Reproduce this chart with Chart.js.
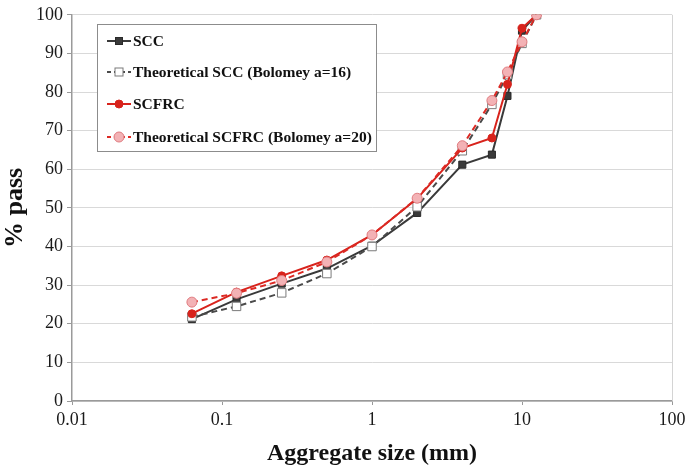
<!DOCTYPE html>
<html>
<head>
<meta charset="utf-8">
<script src="https://cdn.jsdelivr.net/npm/chart.js@4.4.1/dist/chart.umd.min.js"></script>
<style>
  html, body { margin: 0; padding: 0; background: #fff; }
  #wrap { width: 687px; height: 465px; position: relative; }
</style>
</head>
<body>
<div id="wrap"><canvas id="c" width="687" height="465"></canvas></div>
<script>
// Sieve sizes (mm) and cumulative % passing for each mix
const sizes = [0.063, 0.125, 0.25, 0.5, 1, 2, 4, 6.3, 8, 10, 12.5];
const scc = [21.2, 26.3, 30.4, 34.3, 40.2, 48.7, 61.2, 63.8, 79.0, 95.9, 100];
const theoSCC = [21.8, 24.5, 28.0, 33.0, 40.0, 50.3, 64.8, 76.8, 84.5, 92.6, 100];
const scfrc = [22.6, 28.2, 32.4, 36.5, 43.0, 52.4, 65.5, 68.1, 82.0, 96.5, 100];
const theoSCFRC = [25.6, 27.9, 31.2, 36.0, 43.0, 52.5, 66.1, 77.8, 85.2, 93.0, 100];

const xTicks = [0.01, 0.1, 1, 10, 100];
const seriesNames = ['SCC', 'Theoretical SCC (Bolomey a=16)', 'SCFRC', 'Theoretical SCFRC (Bolomey a=20)'];

const toPoints = vals => sizes.map((s, i) => ({ x: s, y: vals[i] }));
const SERIF = '"Liberation Serif", "Times New Roman", serif';

const datasets = [
  {
    label: seriesNames[0], data: toPoints(scc), order: 3,
    borderColor: '#3a3a3a', backgroundColor: '#3a3a3a', borderWidth: 2,
    pointStyle: 'rect', pointRadius: 5, pointBorderColor: '#2a2a2a', pointBackgroundColor: '#3a3a3a', pointBorderWidth: 1
  },
  {
    label: seriesNames[1], data: toPoints(theoSCC), order: 2,
    borderColor: '#4a4a4a', backgroundColor: '#ffffff', borderWidth: 2, borderDash: [6, 4],
    pointStyle: 'rect', pointRadius: 6, pointBorderColor: '#7a7a7a', pointBackgroundColor: '#ffffff', pointBorderWidth: 1
  },
  {
    label: seriesNames[2], data: toPoints(scfrc), order: 1,
    borderColor: '#d8231c', backgroundColor: '#d8231c', borderWidth: 2,
    pointStyle: 'circle', pointRadius: 4, pointBorderColor: '#d8231c', pointBackgroundColor: '#d8231c', pointBorderWidth: 1
  },
  {
    label: seriesNames[3], data: toPoints(theoSCFRC), order: 0,
    borderColor: '#dc2a24', backgroundColor: '#f3b2b5', borderWidth: 2, borderDash: [6, 4],
    pointStyle: 'circle', pointRadius: 5, pointBorderColor: '#e07c80', pointBackgroundColor: '#f3b2b5', pointBorderWidth: 1
  }
];

// Boxed legend with line + marker samples, drawn in the upper-left of the plot
const boxLegend = {
  id: 'boxLegend',
  afterDraw(chart) {
    const ctx = chart.ctx;
    const box = { x: 97.5, y: 24.5, w: 279, h: 127 };
    ctx.save();
    ctx.fillStyle = '#ffffff';
    ctx.fillRect(box.x, box.y, box.w, box.h);
    ctx.strokeStyle = '#8c8c8c';
    ctx.lineWidth = 1;
    ctx.strokeRect(box.x, box.y, box.w, box.h);
    const rows = [41, 72, 104, 137];
    chart.data.datasets.forEach((ds, i) => {
      const y = rows[i];
      ctx.strokeStyle = ds.borderColor;
      ctx.lineWidth = 2;
      ctx.setLineDash(ds.borderDash ? [4, 3] : []);
      ctx.beginPath();
      ctx.moveTo(107, y);
      ctx.lineTo(131, y);
      ctx.stroke();
      ctx.setLineDash([]);
      const cx = 119;
      ctx.fillStyle = ds.pointBackgroundColor;
      ctx.strokeStyle = ds.pointBorderColor;
      ctx.lineWidth = 1;
      if (ds.pointStyle === 'rect') {
        const s = ds.pointRadius === 5 ? 7 : 8;
        ctx.fillRect(cx - s / 2, y - s / 2, s, s);
        ctx.strokeRect(cx - s / 2, y - s / 2, s, s);
      } else {
        ctx.beginPath();
        ctx.arc(cx, y, ds.pointRadius, 0, Math.PI * 2);
        ctx.fill();
        ctx.stroke();
      }
      ctx.fillStyle = '#111';
      ctx.font = 'bold 15.5px ' + SERIF;
      ctx.textBaseline = 'middle';
      ctx.textAlign = 'left';
      ctx.fillText(ds.label, 133, y + 1);
    });
    ctx.restore();
  }
};

// Light frame line on the right edge of the plot area
const rightFrame = {
  id: 'rightFrame',
  beforeDatasetsDraw(chart) {
    const { ctx, chartArea } = chart;
    ctx.save();
    ctx.strokeStyle = '#d4d4d4';
    ctx.lineWidth = 1;
    ctx.beginPath();
    ctx.moveTo(Math.round(chartArea.right) + 0.5, chartArea.top);
    ctx.lineTo(Math.round(chartArea.right) + 0.5, chartArea.bottom);
    ctx.stroke();
    ctx.restore();
  }
};

new Chart(document.getElementById('c'), {
  type: 'line',
  data: { datasets },
  options: {
    responsive: false,
    animation: false,
    layout: { padding: { top: 14, right: 15, left: 0, bottom: 0 } },
    plugins: { legend: { display: false }, tooltip: { enabled: false } },
    scales: {
      x: {
        type: 'logarithmic',
        min: 0.01, max: 100,
        afterBuildTicks(scale) { scale.ticks = xTicks.map(v => ({ value: v })); },
        afterFit(scale) { scale.height = 64; scale.paddingRight = 0; scale.paddingLeft = 0; },
        ticks: {
          autoSkip: false, maxRotation: 0, padding: 4,
          color: '#1a1a1a',
          font: { family: SERIF, size: 18 },
          callback: v => String(v)
        },
        grid: { drawOnChartArea: false, drawTicks: true, tickLength: 4, tickColor: '#999', color: '#999' },
        border: { color: '#9a9a9a', width: 1.5 },
        title: {
          display: true, text: 'Aggregate size (mm)', color: '#111',
          font: { family: SERIF, size: 24, weight: 'bold' }, padding: { top: 0, bottom: -3 }
        }
      },
      y: {
        min: 0, max: 100,
        afterFit(scale) { scale.width = 72; },
        ticks: {
          stepSize: 10, padding: 4, color: '#1a1a1a',
          font: { family: SERIF, size: 18 }
        },
        grid: { color: '#d9d9d9', lineWidth: 1, tickLength: 5, tickColor: '#999' },
        border: { color: '#9a9a9a', width: 1.5 },
        title: {
          display: true, text: '% pass', color: '#111',
          font: { family: SERIF, size: 26, weight: 'bold' }, padding: { top: 0, bottom: 0 }
        }
      }
    }
  },
  plugins: [rightFrame, boxLegend]
});
</script>
</body>
</html>
